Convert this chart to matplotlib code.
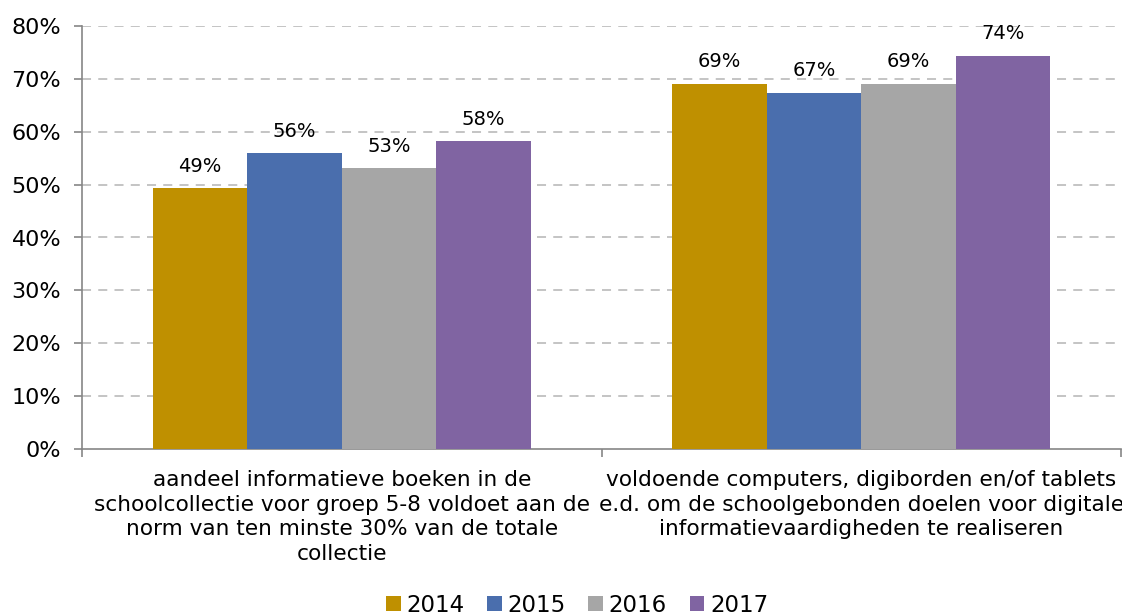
import matplotlib
matplotlib.use("Agg")
import matplotlib.pyplot as plt
import numpy as np
from matplotlib.patches import Patch

categories = [
    "aandeel informatieve boeken in de\nschoolcollectie voor groep 5-8 voldoet aan de\nnorm van ten minste 30% van de totale\ncollectie",
    "voldoende computers, digiborden en/of tablets\ne.d. om de schoolgebonden doelen voor digitale\ninformatievaardigheden te realiseren",
]
years = ["2014", "2015", "2016", "2017"]
values = {
    "2014": [49.3, 69.0],
    "2015": [55.9, 67.3],
    "2016": [53.1, 69.0],
    "2017": [58.2, 74.3],
}
labels = {
    "2014": ["49%", "69%"],
    "2015": ["56%", "67%"],
    "2016": ["53%", "69%"],
    "2017": ["58%", "74%"],
}
colors = ["#BF9000", "#4A6EAD", "#A6A6A6", "#8064A2"]
yticks = [0, 10, 20, 30, 40, 50, 60, 70, 80]

plt.rcParams['font.family'] = ['DejaVu Sans']
fig = plt.figure(figsize=(11.22, 6.16), dpi=100)
ax = fig.add_axes([82/1122, 1-449/616, 1-82/1122-1/1122, (449-26)/616])

x = np.arange(len(categories))
w = 0.1817
for i, (yr, c) in enumerate(zip(years, colors)):
    xs = x + (i - 1.5) * w
    bars = ax.bar(xs, values[yr], width=w, color=c, zorder=3)
    for b, lab in zip(bars, labels[yr]):
        ax.text(b.get_x() + b.get_width()/2, b.get_height() + 2.4, lab,
                ha="center", va="bottom", fontsize=14, color="#000000", zorder=4)

ax.set_xlim(-0.5, 1.5)
ax.set_ylim(0, 80)
ax.set_yticks(yticks)
ax.set_yticklabels([f"{t}%" for t in yticks], fontsize=16)
ax.set_xticks(x)
ax.set_xticklabels(categories, fontsize=15.6, linespacing=1.3)
ax.tick_params(axis="x", which="major", length=0, pad=15)
ax.set_xticks([-0.5, 0.5, 1.5], minor=True)
ax.tick_params(axis="x", which="minor", length=6, color="#868686", width=1.2)
ax.tick_params(axis="y", length=6, color="#868686", width=1.2, pad=9)

for t in yticks[1:]:
    ax.axhline(t, color="#BFBFBF", linestyle=(0, (5, 4)), linewidth=1.3, zorder=1)

for s in ["top", "right"]:
    ax.spines[s].set_visible(False)
for s in ["left", "bottom"]:
    ax.spines[s].set_color("#868686")
    ax.spines[s].set_linewidth(1.2)

handles = [Patch(facecolor=c, edgecolor="none", label=yr) for yr, c in zip(years, colors)]
fig.legend(handles=handles, loc="center", bbox_to_anchor=(577/1122, 1-605/616), ncol=4,
           frameon=False, fontsize=16.5, handlelength=0.65, handleheight=0.65,
           handletextpad=0.25, columnspacing=0.98)

fig.savefig("out.png", dpi=100)
